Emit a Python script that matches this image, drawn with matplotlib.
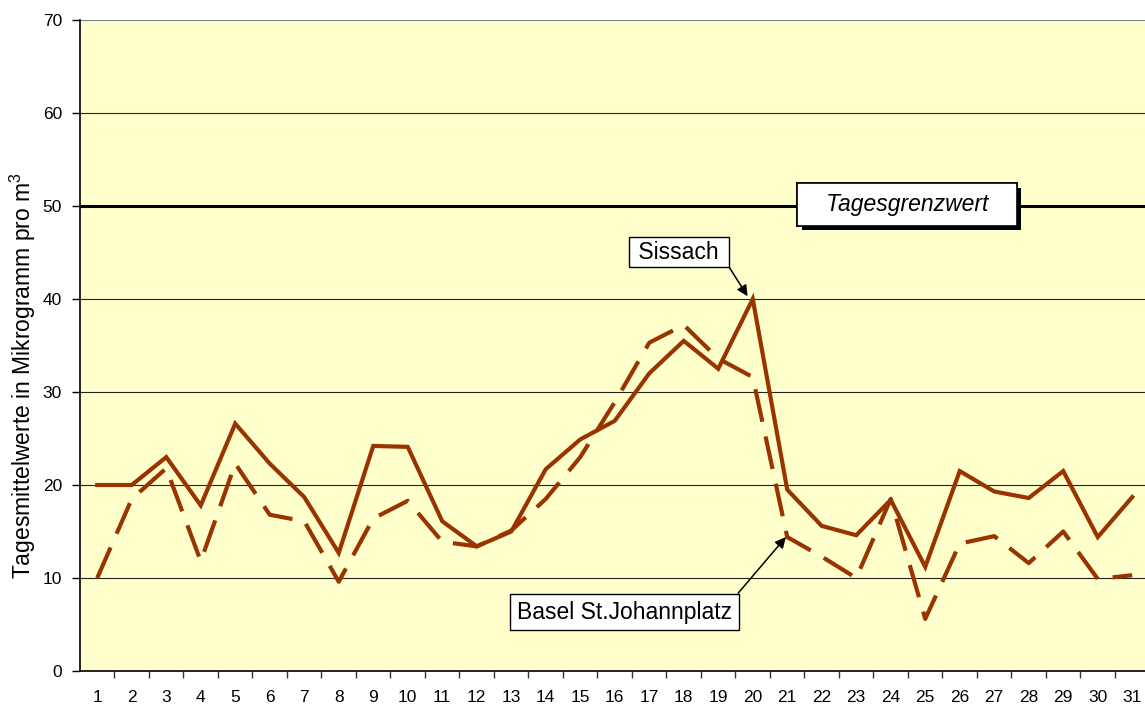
import matplotlib
matplotlib.use("Agg")
import matplotlib.pyplot as plt
import matplotlib.patheffects as pe

plt.rcParams['font.family'] = ['Liberation Sans', 'DejaVu Sans']
plt.rcParams['mathtext.fontset'] = 'custom'
plt.rcParams['mathtext.rm'] = 'Liberation Sans'
plt.rcParams['mathtext.it'] = 'Liberation Sans:italic'

days = list(range(1, 32))
sissach = [20.0, 20.0, 23.0, 17.8, 26.6, 22.3, 18.7, 12.7, 24.2, 24.1,
           16.1, 13.4, 15.0, 21.7, 24.9, 26.9, 32.0, 35.5, 32.5, 40.0,
           19.5, 15.6, 14.6, 18.4, 11.2, 21.5, 19.3, 18.6, 21.5, 14.4, 18.7]
basel = [10.0, 18.5, 21.8, 11.8, 22.3, 16.8, 16.1, 9.6, 16.4, 18.3,
         13.9, 13.4, 15.1, 18.5, 23.0, 28.9, 35.3, 37.2, 33.6, 31.6,
         14.4, 12.3, 10.0, 18.5, 5.6, 13.7, 14.5, 11.6, 15.0, 9.9, 10.3]
limit_value = 50
yticks = [0, 10, 20, 30, 40, 50, 60, 70]
ylabel = "Tagesmittelwerte in Mikrogramm pro m$^{\\mathrm{3}}$"
label_sissach = "Sissach"
label_basel = "Basel St.Johannplatz"
label_limit = "Tagesgrenzwert"

W, H = 1145, 711
fig = plt.figure(figsize=(W / 100, H / 100), dpi=100)
fig.patch.set_facecolor('white')
ax = fig.add_axes([80 / W, 40 / H, (W - 80) / W, (671 - 20) / H])
ax.set_facecolor('#FFFFCC')

line_color = '#993300'
ax.plot(days, sissach, color=line_color, lw=3.0, solid_joinstyle='miter', zorder=4)
ax.plot(days, basel, color=line_color, lw=3.0, dashes=(8, 3.6), dash_capstyle='butt', zorder=4)

ax.axhline(limit_value, color='black', lw=2.2, zorder=3)

ax.set_ylim(0, 70)
ax.set_xlim(0.5, 31.37)
ax.set_yticks(yticks)
ax.yaxis.grid(True, color='#222222', lw=0.8)
ax.set_axisbelow(True)
ax.get_ygridlines()[-1].set_color('#808080')

ax.set_xticks(days)
ax.set_xticklabels([str(d) for d in days])
ax.set_xticks([d + 0.5 for d in days[:-1]], minor=True)
ax.tick_params(axis='x', which='major', length=0, pad=14, labelsize=12.5)
ax.tick_params(axis='x', which='minor', length=5, width=1, direction='out', color='#333333')
ax.tick_params(axis='y', length=6, width=1, direction='out', pad=7, labelsize=12.5)

for s in ['top', 'right']:
    ax.spines[s].set_visible(False)
ax.spines['left'].set_color('black')
ax.spines['left'].set_linewidth(1.2)
ax.spines['bottom'].set_color('black')
ax.spines['bottom'].set_linewidth(1.2)

fig.text(23 / W, 1 - 376 / H, ylabel, rotation=90, ha='center', va='center', fontsize=16.5)

# Limit label with shadow
t = ax.text(24.48, 50.16, "   " + label_limit + "   ", style='italic', fontsize=16.5,
            ha='center', va='center', zorder=6,
            bbox=dict(boxstyle='square,pad=0.42', fc='white', ec='black', lw=1.2))
t.get_bbox_patch().set_path_effects([
    pe.withSimplePatchShadow(offset=(3, -3), shadow_rgbFace='black', alpha=1.0),
    pe.Normal()])

arrow = dict(arrowstyle='-|>', color='black', lw=1.1, mutation_scale=16, shrinkA=0, shrinkB=0)

ax.annotate(" " + label_sissach + " ", xy=(19.85, 40.3), xytext=(17.86, 45.05),
            textcoords='data', fontsize=16.5, ha='center', va='center', zorder=6,
            bbox=dict(boxstyle='square,pad=0.15', fc='white', ec='black', lw=1.0),
            arrowprops=dict(relpos=(1.0, 0.1), **arrow))

ax.annotate(label_basel, xy=(20.96, 14.4), xytext=(16.28, 6.34),
            textcoords='data', fontsize=16.5, ha='center', va='center', zorder=6,
            bbox=dict(boxstyle='square,pad=0.3', fc='white', ec='black', lw=1.0),
            arrowprops=dict(relpos=(1.0, 1.0), **arrow))

fig.savefig('out.png', dpi=100)
